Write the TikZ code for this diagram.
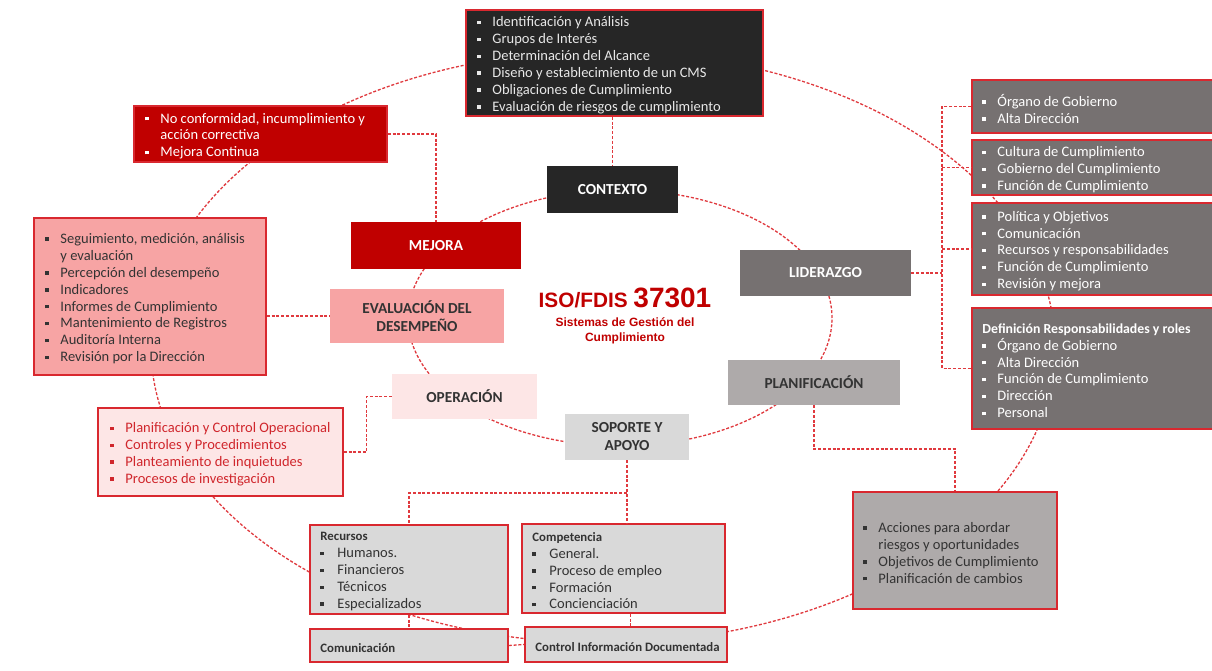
\documentclass[tikz,border=0pt]{standalone}
\usepackage{fontspec}
\setmainfont{Carlito}
\newfontfamily\arialf{Liberation Sans}
\usetikzlibrary{calc}
\definecolor{dk}{HTML}{262626}
\definecolor{rd}{HTML}{C00000}
\definecolor{bd}{HTML}{D9282F}
\definecolor{cn}{HTML}{E0393E}
\definecolor{pk}{HTML}{F7A4A4}
\definecolor{lp}{HTML}{FDE6E6}
\definecolor{lg}{HTML}{D9D9D9}
\definecolor{mg}{HTML}{AEAAAA}
\definecolor{dg}{HTML}{767171}
\definecolor{optx}{HTML}{D0262C}
\definecolor{tl}{HTML}{E8E8E8}
\definecolor{tx}{HTML}{333333}
\newcommand{\sqb}{\raisebox{2.6pt}{\rule{3.4pt}{3.4pt}}}
\newcommand{\bitem}[2]{\makebox[15pt][l]{#1}#2}
\newcommand{\bitemw}[2]{\makebox[17pt][l]{#1}#2}
\newcommand{\bcont}[1]{\makebox[15pt]{}#1}
\begin{document}
\begin{tikzpicture}[x=1pt,y=-1pt,
  box/.style={draw=bd, line width=1.5pt, inner sep=0pt},
  txt/.style={anchor=west, align=left, inner sep=0pt, yshift=-2.2pt, font=\fontsize{14.5}{16.9}\selectfont},
  hd/.style={font=\bfseries\fontsize{12.8}{16.9}\selectfont},
  cbox/.style={inner sep=0pt, align=center, font=\bfseries\fontsize{15.3}{18}\selectfont},
  conn/.style={draw=cn, line width=1.3pt, dash pattern=on 3pt off 1.8pt}]
\useasboundingbox (0,0) rectangle (1212,671);
\fill[white] (0,0) rectangle (1212,671);

% ring lines
\draw[conn] (603,347) ellipse [x radius=452pt, y radius=296pt];
\draw[conn] (620,318) ellipse [x radius=212pt, y radius=128pt];

% centre nodes
\node[cbox, fill=dk, text=white, minimum width=131pt, minimum height=47pt] (ctx) at (612.5,189.5) {CONTEXTO};
\node[cbox, fill=rd, text=white, minimum width=170pt, minimum height=47pt] (mej) at (436,245.5) {MEJORA};
\node[cbox, fill=pk, text=tx, minimum width=174pt, minimum height=54pt] (eval) at (417,316) {EVALUACIÓN DEL\\DESEMPEÑO};
\node[cbox, fill=lp, text=tx, minimum width=145pt, minimum height=45pt] (op) at (464.5,396.5) {OPERACIÓN};
\node[cbox, fill=lg, text=tx, minimum width=124pt, minimum height=46pt] (sop) at (627,437) {SOPORTE Y\\APOYO};
\node[cbox, fill=mg, text=tx, minimum width=172pt, minimum height=45pt] (plan) at (814,382.5) {PLANIFICACIÓN};
\node[cbox, fill=dg, text=white, minimum width=171pt, minimum height=46pt] (lid) at (825.5,273) {LIDERAZGO};

% title
\node[text=rd, font=\arialf\bfseries, inner sep=0pt, anchor=base] (title) at (625,307)
  {\fontsize{20.8}{24}\selectfont ISO/FDIS \fontsize{28}{30}\selectfont 37301};
\node[text=rd, font=\arialf\bfseries\fontsize{12}{15}\selectfont, align=center, inner sep=0pt] (sub) at (625,330.5)
  {Sistemas de Gestión del\\Cumplimiento};

% outer boxes
\node[box, fill=dk, minimum width=297pt, minimum height=106pt] (ctxl) at (614.5,63) {};
\node[txt, text=tl] (ctxlt) at ([xshift=12pt]ctxl.west)
  {\bitem{\sqb}{Identificación y Análisis}\\
   \bitem{\sqb}{Grupos de Interés}\\
   \bitem{\sqb}{Determinación del Alcance}\\
   \bitem{\sqb}{Diseño y establecimiento de un CMS}\\
   \bitem{\sqb}{Obligaciones de Cumplimiento}\\
   \bitem{\sqb}{Evaluación de riesgos de cumplimiento}};

\node[box, fill=rd, minimum width=253pt, minimum height=56pt] (mejl) at (260.5,134) {};
\node[txt, text=white] (mejlt) at ([xshift=12pt]mejl.west)
  {\bitem{\sqb}{No conformidad, incumplimiento y}\\
   \bcont{acción correctiva}\\
   \bitem{\sqb}{Mejora Continua}};

\node[box, fill=pk, minimum width=232pt, minimum height=157pt] (evall) at (150,296.5) {};
\node[txt, text=tx] (evallt) at ([xshift=12pt]evall.west)
  {\bitem{\sqb}{Seguimiento, medición, análisis}\\
   \bcont{y evaluación}\\
   \bitem{\sqb}{Percepción del desempeño}\\
   \bitem{\sqb}{Indicadores}\\
   \bitem{\sqb}{Informes de Cumplimiento}\\
   \bitem{\sqb}{Mantenimiento de Registros}\\
   \bitem{\sqb}{Auditoría Interna}\\
   \bitem{\sqb}{Revisión por la Dirección}};

\node[box, fill=lp, minimum width=245pt, minimum height=88pt] (opl) at (220.5,452) {};
\node[txt, text=optx] (oplt) at ([xshift=13pt]opl.west)
  {\bitem{\sqb}{Planificación y Control Operacional}\\
   \bitem{\sqb}{Controles y Procedimientos}\\
   \bitem{\sqb}{Planteamiento de inquietudes}\\
   \bitem{\sqb}{Procesos de investigación}};

\node[box, fill=lg, minimum width=198pt, minimum height=89pt] (rec) at (409,569.5) {};
\node[txt, text=tx] (rect) at ([xshift=11pt]rec.west)
  {{\bfseries\fontsize{12.8}{16.9}\selectfont Recursos}\\
   \bitemw{\sqb}{Humanos.}\\
   \bitemw{\sqb}{Financieros}\\
   \bitemw{\sqb}{Técnicos}\\
   \bitemw{\sqb}{Especializados}};

\node[box, fill=lg, minimum width=203pt, minimum height=89pt] (comp) at (623.5,568.5) {};
\node[txt, text=tx] (compt) at ([xshift=11pt]comp.west)
  {{\bfseries\fontsize{12.8}{16.9}\selectfont Competencia}\\
   \bitemw{\sqb}{General.}\\
   \bitemw{\sqb}{Proceso de empleo}\\
   \bitemw{\sqb}{Formación}\\
   \bitemw{\sqb}{Concienciación}};

\node[box, fill=lg, minimum width=198pt, minimum height=33pt] (comu) at (409,645.5) {};
\node[txt, hd, text=tx] (comut) at ([xshift=11pt]comu.west) {Comunicación};

\node[box, fill=lg, minimum width=202pt, minimum height=35pt] (cid) at (626,644.5) {};
\node[txt, hd, text=tx] (cidt) at ([xshift=11pt]cid.west) {Control Información Documentada};

\node[box, fill=mg, minimum width=204pt, minimum height=117pt] (acc) at (955,550.5) {};
\node[txt, text=tx] (acct) at ([xshift=11pt]acc.west)
  {\bitem{\sqb}{Acciones para abordar}\\
   \bcont{riesgos y oportunidades}\\
   \bitem{\sqb}{Objetivos de Cumplimiento}\\
   \bitem{\sqb}{Planificación de cambios}};

\node[box, fill=dg, minimum width=243pt, minimum height=53pt] (ra) at (1093.5,106.5) {};
\node[txt, text=white] (rat) at ([xshift=11pt]ra.west)
  {\bitem{\sqb}{Órgano de Gobierno}\\
   \bitem{\sqb}{Alta Dirección}};

\node[box, fill=dg, minimum width=243pt, minimum height=55pt] (rb) at (1093.5,167.5) {};
\node[txt, text=white] (rbt) at ([xshift=11pt]rb.west)
  {\bitem{\sqb}{Cultura de Cumplimiento}\\
   \bitem{\sqb}{Gobierno del Cumplimiento}\\
   \bitem{\sqb}{Función de Cumplimiento}};

\node[box, fill=dg, minimum width=243pt, minimum height=92pt] (rc) at (1093.5,249) {};
\node[txt, text=white] (rct) at ([xshift=11pt]rc.west)
  {\bitem{\sqb}{Política y Objetivos}\\
   \bitem{\sqb}{Comunicación}\\
   \bitem{\sqb}{Recursos y responsabilidades}\\
   \bitem{\sqb}{Función de Cumplimiento}\\
   \bitem{\sqb}{Revisión y mejora}};

\node[box, fill=dg, minimum width=243pt, minimum height=121pt] (rd4) at (1093.5,368.5) {};
\node[txt, text=white] (rdt) at ([xshift=11pt]rd4.west)
  {{\bfseries\fontsize{13.8}{16.9}\selectfont Definición Responsabilidades y roles}\\
   \bitem{\sqb}{Órgano de Gobierno}\\
   \bitem{\sqb}{Alta Dirección}\\
   \bitem{\sqb}{Función de Cumplimiento}\\
   \bitem{\sqb}{Dirección}\\
   \bitem{\sqb}{Personal}};

% dashed connectors
\draw[conn] (ctx.north |- ctxl.south) -- (ctx.north);
\draw[conn] (mejl.east) -| (mej.north);
\draw[conn] (evall.east |- eval.west) -- (eval.west);
\draw[conn] (opl.east) -| ([xshift=-25pt]op.west) -- (op.west);
\coordinate (sj) at (sop.south |- 0,493);
\draw[conn] (sop.south) -- (sop.south |- comp.north);
\draw[conn] (sj) -| (rec.north);
\draw[conn] ([xshift=7pt]comp.south) -- ([xshift=7pt]comp.south |- cid.north);
\draw[conn] (rec.south) -- (comu.north);
\draw[conn] (comu.east) -- (cid.west);
\draw[conn] (plan.south) -- (plan.south |- 0,449) -| (acc.north);
\coordinate (bx) at (942,0);
\draw[conn] (lid.east) -- (bx |- lid.east);
\draw[conn] (ra.west) -| (bx |- rd4.west) -- (rd4.west);
\draw[conn] (bx |- rb.west) -- (rb.west);
\draw[conn] (bx |- rc.west) -- (rc.west);
\end{tikzpicture}
\end{document}
